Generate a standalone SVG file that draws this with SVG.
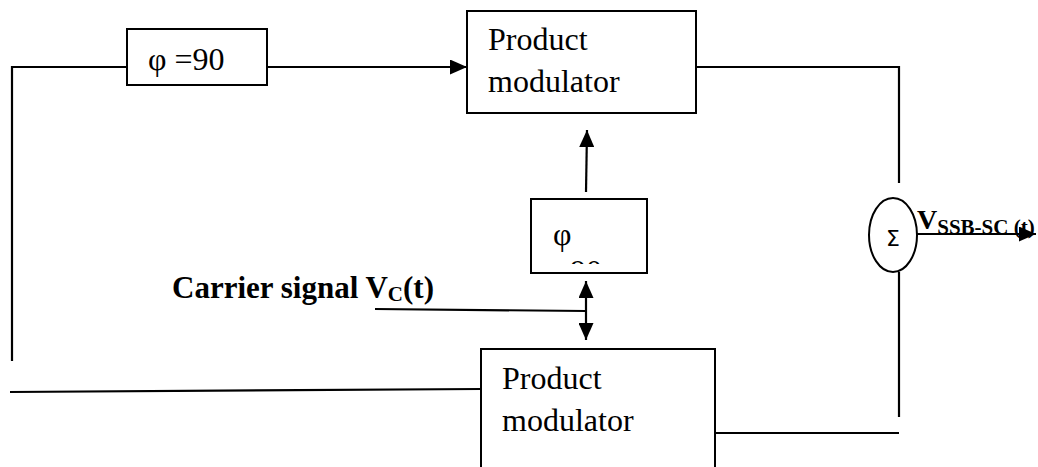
<svg xmlns="http://www.w3.org/2000/svg" width="1038" height="467" viewBox="0 0 1038 467">
<style>
.box{fill:#fff;stroke:#000;stroke-width:2}
.ln{fill:none;stroke:#000;stroke-width:2.2}
.t{font-family:"Liberation Serif","Times New Roman",serif;font-size:32px;fill:#000}
.b{font-family:"Liberation Serif","Times New Roman",serif;font-weight:bold;fill:#000}
</style>
<defs>
<marker id="ah" markerUnits="userSpaceOnUse" markerWidth="17" markerHeight="15" refX="17" refY="7.5" orient="auto-start-reverse">
<path d="M0,0 L17,7.5 L0,15 z" fill="#000"/>
</marker>
<clipPath id="cp"><rect x="532" y="200" width="114" height="64"/></clipPath>
</defs>
<g id="connectors">
<polyline class="ln" points="12,361 12,67 145,67" marker-end="url(#ah)"/>
<line class="ln" x1="267" y1="67" x2="467" y2="67" marker-end="url(#ah)"/>
<polyline class="ln" points="696,67 899,67 899,183"/>
<line class="ln" x1="899" y1="272" x2="899" y2="417"/>
<line class="ln" x1="715" y1="433" x2="899" y2="433"/>
<line class="ln" x1="586" y1="192" x2="587" y2="130" marker-end="url(#ah)"/>
<line class="ln" x1="586" y1="281" x2="586" y2="340" marker-start="url(#ah)" marker-end="url(#ah)"/>
<line class="ln" x1="375" y1="309" x2="586" y2="311"/>
<line class="ln" x1="10" y1="392" x2="481" y2="389"/>
<line class="ln" x1="917" y1="234" x2="1036" y2="234" marker-end="url(#ah)"/>
</g>
<g id="phase-top">
<rect class="box" x="127" y="29" width="140" height="56"/>
<text class="t" x="148" y="70">φ =90</text>
</g>
<g id="product-top">
<rect class="box" x="467" y="11" width="229" height="102"/>
<text class="t" x="488" y="50">Product</text>
<text class="t" x="488" y="92">modulator</text>
</g>
<g id="phase-mid">
<rect class="box" x="531" y="199" width="116" height="74"/>
<text class="t" x="553" y="245">φ</text>
<text class="t" x="570" y="282" clip-path="url(#cp)">90</text>
</g>
<g id="product-bottom">
<rect class="box" x="481" y="349" width="234" height="130"/>
<text class="t" x="502" y="389">Product</text>
<text class="t" x="502" y="431">modulator</text>
</g>
<g id="sum">
<ellipse class="box" cx="893" cy="235" rx="24" ry="37"/>
<text x="886" y="246" font-family="DejaVu Sans, sans-serif" font-size="22">Σ</text>
</g>
<g id="labels">
<text class="b" x="172" y="298" font-size="31">Carrier signal V<tspan font-size="21" dy="3">C</tspan><tspan dy="-3">(t)</tspan></text>
<text class="b" x="917" y="229" font-size="28">V<tspan font-size="21" dy="5">SSB-SC (t)</tspan></text>
</g>
</svg>
